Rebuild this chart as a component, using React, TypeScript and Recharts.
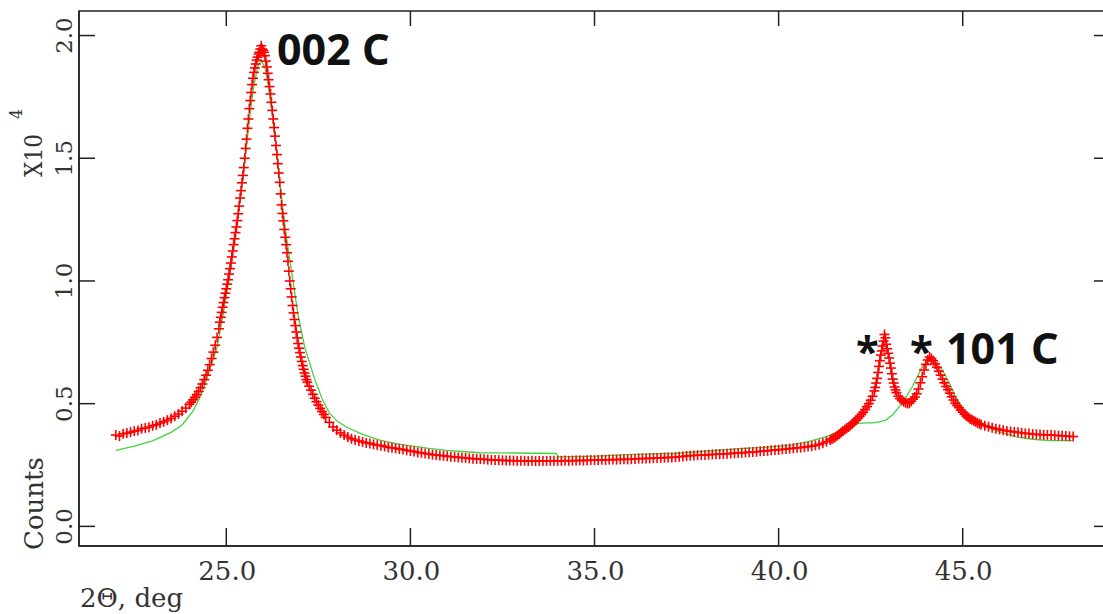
import React from "react";
import {
  ComposedChart,
  Scatter,
  Line,
  XAxis,
  YAxis,
  ReferenceArea,
} from "recharts";

const obsLeftTail: [number, number][] = [
  [22.0, 0.372], [22.1, 0.368], [22.2, 0.377], [22.3, 0.38], [22.4, 0.384],
  [22.5, 0.388], [22.6, 0.391], [22.7, 0.398], [22.8, 0.401], [22.9, 0.404],
  [23.0, 0.41], [23.1, 0.414], [23.2, 0.421], [23.3, 0.426], [23.4, 0.433],
  [23.5, 0.44], [23.6, 0.449], [23.7, 0.458], [23.8, 0.469], [23.9, 0.482],
  [24.0, 0.497], [24.05, 0.506], [24.1, 0.516], [24.15, 0.526], [24.2, 0.537],
  [24.25, 0.55], [24.3, 0.565], [24.35, 0.58], [24.4, 0.598], [24.45, 0.616],
  [24.5, 0.636], [24.55, 0.659], [24.6, 0.684], [24.65, 0.71], [24.7, 0.738],
  [24.75, 0.77], [24.8, 0.805],
];

const obsMainPeak: [number, number][] = [
  [24.825, 0.832], [24.85, 0.852], [24.875, 0.872], [24.9, 0.893], [24.925, 0.912],
  [24.95, 0.932], [24.975, 0.95], [25.0, 0.968], [25.025, 0.987], [25.05, 1.005],
  [25.075, 1.028], [25.1, 1.05], [25.125, 1.073], [25.15, 1.098], [25.175, 1.122],
  [25.2, 1.148], [25.225, 1.172], [25.25, 1.197], [25.275, 1.22], [25.3, 1.246],
  [25.325, 1.274], [25.35, 1.305], [25.375, 1.338], [25.4, 1.368], [25.425, 1.4],
  [25.45, 1.43], [25.475, 1.462], [25.5, 1.5], [25.525, 1.54], [25.55, 1.578],
  [25.575, 1.622], [25.6, 1.66], [25.625, 1.702], [25.65, 1.735], [25.675, 1.768],
  [25.7, 1.8], [25.725, 1.826], [25.75, 1.85], [25.775, 1.868], [25.8, 1.884],
  [25.825, 1.9], [25.85, 1.912], [25.875, 1.925], [25.9, 1.932], [25.925, 1.945],
  [25.95, 1.958], [25.975, 1.945], [26.0, 1.94], [26.025, 1.932], [26.05, 1.918],
  [26.075, 1.896], [26.1, 1.872], [26.125, 1.846], [26.15, 1.82], [26.175, 1.792],
  [26.2, 1.762], [26.225, 1.728], [26.25, 1.695], [26.275, 1.66], [26.3, 1.625],
  [26.325, 1.59], [26.35, 1.552], [26.375, 1.515], [26.4, 1.478], [26.425, 1.44],
  [26.45, 1.402], [26.475, 1.355], [26.5, 1.31], [26.525, 1.275], [26.55, 1.245],
  [26.575, 1.21], [26.6, 1.178], [26.625, 1.148], [26.65, 1.115], [26.675, 1.08],
  [26.7, 1.04], [26.725, 1.0], [26.75, 0.968], [26.775, 0.935], [26.8, 0.9],
  [26.825, 0.87], [26.85, 0.843], [26.875, 0.818], [26.9, 0.792], [26.925, 0.768],
  [26.95, 0.745], [26.975, 0.726], [27.0, 0.708], [27.025, 0.69], [27.05, 0.672],
  [27.075, 0.655], [27.1, 0.64], [27.125, 0.625], [27.15, 0.612], [27.175, 0.598],
  [27.2, 0.588], [27.25, 0.571], [27.3, 0.555], [27.35, 0.538], [27.4, 0.522],
  [27.45, 0.508], [27.5, 0.494], [27.55, 0.481], [27.6, 0.468], [27.65, 0.456],
  [27.7, 0.444],
];

const obsBackground: [number, number][] = [
  [27.8, 0.424], [27.9, 0.405], [28.0, 0.392], [28.1, 0.381], [28.2, 0.372],
  [28.3, 0.364], [28.4, 0.357], [28.5, 0.352], [28.6, 0.348], [28.7, 0.344],
  [28.8, 0.34], [28.9, 0.338], [29.0, 0.334], [29.1, 0.331], [29.2, 0.329],
  [29.3, 0.326], [29.4, 0.322], [29.5, 0.32], [29.6, 0.318], [29.7, 0.315],
  [29.8, 0.313], [29.9, 0.31], [30.0, 0.307], [30.1, 0.305], [30.2, 0.301],
  [30.3, 0.3], [30.4, 0.297], [30.5, 0.295], [30.6, 0.292], [30.7, 0.291],
  [30.8, 0.289], [30.9, 0.288], [31.0, 0.286], [31.1, 0.284], [31.2, 0.283],
  [31.3, 0.281], [31.4, 0.28], [31.5, 0.279], [31.6, 0.277], [31.7, 0.276],
  [31.8, 0.275], [31.9, 0.274], [32.0, 0.273], [32.1, 0.272], [32.2, 0.271],
  [32.3, 0.27], [32.4, 0.27], [32.5, 0.269], [32.6, 0.268], [32.7, 0.268],
  [32.8, 0.268], [32.9, 0.267], [33.0, 0.267], [33.1, 0.267], [33.2, 0.266],
  [33.3, 0.267], [33.4, 0.266], [33.5, 0.267], [33.6, 0.266], [33.7, 0.267],
  [33.8, 0.267], [33.9, 0.267], [34.0, 0.267], [34.1, 0.267], [34.2, 0.268],
  [34.3, 0.267], [34.4, 0.268], [34.5, 0.268], [34.6, 0.269], [34.7, 0.268],
  [34.8, 0.269], [34.9, 0.27], [35.0, 0.27], [35.1, 0.27], [35.2, 0.271],
  [35.3, 0.271], [35.4, 0.272], [35.5, 0.272], [35.6, 0.272], [35.7, 0.273],
  [35.8, 0.273], [35.9, 0.273], [36.0, 0.274], [36.1, 0.275], [36.2, 0.276],
  [36.3, 0.276], [36.4, 0.277], [36.5, 0.277], [36.6, 0.278], [36.7, 0.279],
  [36.8, 0.279], [36.9, 0.28], [37.0, 0.281], [37.1, 0.281], [37.2, 0.282],
  [37.3, 0.284], [37.4, 0.285], [37.5, 0.287], [37.6, 0.288], [37.7, 0.289],
  [37.8, 0.29], [37.9, 0.29], [38.0, 0.291], [38.1, 0.292], [38.2, 0.293],
  [38.3, 0.294], [38.4, 0.294], [38.5, 0.295], [38.6, 0.296], [38.7, 0.297],
  [38.8, 0.298], [38.9, 0.299], [39.0, 0.3], [39.1, 0.301], [39.2, 0.302],
  [39.3, 0.303], [39.4, 0.304], [39.5, 0.306], [39.6, 0.307], [39.7, 0.308],
  [39.8, 0.31], [39.9, 0.311], [40.0, 0.312], [40.1, 0.314], [40.2, 0.315],
  [40.3, 0.317], [40.4, 0.318], [40.5, 0.32], [40.6, 0.321], [40.7, 0.323],
  [40.8, 0.325], [40.9, 0.327], [41.0, 0.33], [41.1, 0.334], [41.2, 0.339],
  [41.3, 0.345], [41.4, 0.352],
];

const obsDoublet: [number, number][] = [
  [41.45, 0.356], [41.5, 0.36], [41.55, 0.365], [41.6, 0.37], [41.65, 0.376],
  [41.7, 0.383], [41.75, 0.389], [41.8, 0.395], [41.85, 0.4], [41.9, 0.405],
  [41.95, 0.411], [42.0, 0.418], [42.05, 0.425], [42.1, 0.432], [42.15, 0.44],
  [42.2, 0.448], [42.25, 0.456], [42.3, 0.465], [42.35, 0.476], [42.4, 0.488],
  [42.45, 0.5], [42.5, 0.514], [42.55, 0.53], [42.6, 0.552], [42.625, 0.566],
  [42.65, 0.584], [42.675, 0.603], [42.7, 0.627], [42.725, 0.652], [42.75, 0.675],
  [42.775, 0.698], [42.8, 0.715], [42.825, 0.735], [42.85, 0.755], [42.875, 0.782],
  [42.9, 0.768], [42.925, 0.742], [42.95, 0.724], [42.975, 0.705], [43.0, 0.686],
  [43.025, 0.665], [43.05, 0.645], [43.075, 0.622], [43.1, 0.6], [43.125, 0.584],
  [43.15, 0.568], [43.175, 0.556], [43.2, 0.545], [43.25, 0.53], [43.3, 0.52],
  [43.35, 0.513], [43.4, 0.508], [43.45, 0.504], [43.5, 0.501], [43.55, 0.502],
  [43.6, 0.509], [43.65, 0.518], [43.7, 0.527], [43.75, 0.54], [43.8, 0.56],
  [43.85, 0.585], [43.9, 0.61], [43.95, 0.637], [44.0, 0.66], [44.05, 0.678],
  [44.1, 0.69], [44.15, 0.684], [44.2, 0.675], [44.25, 0.662], [44.3, 0.648],
  [44.35, 0.632], [44.4, 0.616], [44.45, 0.6], [44.5, 0.585], [44.55, 0.57],
  [44.6, 0.557], [44.65, 0.543], [44.7, 0.528], [44.75, 0.515], [44.8, 0.502],
  [44.85, 0.492], [44.9, 0.484], [44.95, 0.474], [45.0, 0.465], [45.05, 0.457],
  [45.1, 0.45], [45.15, 0.444], [45.2, 0.438], [45.25, 0.434], [45.3, 0.43],
  [45.35, 0.426], [45.4, 0.422], [45.45, 0.418], [45.5, 0.415],
];

const obsRightTail: [number, number][] = [
  [45.6, 0.41], [45.7, 0.406], [45.8, 0.402], [45.9, 0.398], [46.0, 0.395],
  [46.1, 0.392], [46.2, 0.389], [46.3, 0.387], [46.4, 0.385], [46.5, 0.383],
  [46.6, 0.381], [46.7, 0.379], [46.8, 0.378], [46.9, 0.376], [47.0, 0.375],
  [47.1, 0.374], [47.2, 0.373], [47.3, 0.373], [47.4, 0.372], [47.5, 0.371],
  [47.6, 0.37], [47.7, 0.369], [47.8, 0.368], [47.9, 0.367], [48.0, 0.366],
];

// calculated profile (green)
const calcProfile: [number, number][] = [
  [22.0, 0.31], [22.5, 0.327], [23.0, 0.348], [23.5, 0.383], [23.8, 0.413],
  [24.1, 0.47], [24.3, 0.53], [24.5, 0.615], [24.75, 0.73], [24.92, 0.868],
  [25.07, 1.0], [25.2, 1.14], [25.33, 1.28], [25.46, 1.43], [25.6, 1.62],
  [25.73, 1.78], [25.85, 1.87], [25.94, 1.9], [26.05, 1.87], [26.15, 1.79],
  [26.25, 1.68], [26.35, 1.55], [26.45, 1.41], [26.55, 1.275], [26.65, 1.16],
  [26.81, 1.0], [26.95, 0.86], [27.13, 0.73], [27.4, 0.6], [27.6, 0.52],
  [27.81, 0.46], [28.0, 0.43], [28.26, 0.405], [28.7, 0.375], [29.17, 0.351],
  [29.6, 0.337], [30.07, 0.327], [30.5, 0.318], [30.98, 0.31], [31.4, 0.305],
  [31.88, 0.3], [32.78, 0.299], [33.96, 0.297], [34.02, 0.283], [35.04, 0.286],
  [36.22, 0.294], [37.21, 0.298], [38.0, 0.306], [38.93, 0.317], [39.6, 0.322],
  [40.29, 0.33], [40.8, 0.345], [41.28, 0.365], [41.6, 0.385], [41.83, 0.403],
  [42.0, 0.414], [42.19, 0.42], [42.4, 0.422], [42.55, 0.422], [42.73, 0.426],
  [42.91, 0.433], [43.1, 0.455], [43.27, 0.487], [43.45, 0.525], [43.63, 0.569],
  [43.8, 0.62], [43.9, 0.65], [44.0, 0.67], [44.09, 0.68], [44.25, 0.668],
  [44.45, 0.637], [44.63, 0.585], [44.81, 0.528], [45.0, 0.48], [45.17, 0.445],
  [45.35, 0.425], [45.53, 0.413], [46.0, 0.385], [46.44, 0.365], [46.9, 0.355],
  [47.34, 0.349], [47.98, 0.349],
];

const xTicks = [25, 30, 35, 40, 45];
const yTicks = [0, 0.5, 1.0, 1.5, 2.0];
const xDomain: [number, number] = [21, 49];
const yDomain: [number, number] = [-0.08, 2.1];

const observed = [
  ...obsLeftTail,
  ...obsMainPeak,
  ...obsBackground,
  ...obsDoublet,
  ...obsRightTail,
].map(([x, y]) => ({ x, y }));
const calculated = calcProfile.map(([x, y]) => ({ x, y }));

const W = 1130;
const H = 614;
const PLOT = { left: 79, top: 11, right: 1110, bottom: 546 };
const AXIS = "#222";
const SERIF = "'DejaVu Serif', serif";
const BOLD = "'Noto Sans', sans-serif";

const PlusMarker = (props: any) => {
  const { cx, cy } = props;
  if (cx == null || cy == null) return null;
  const s = 5;
  return (
    <g stroke="#f00" strokeWidth={1.6}>
      <line x1={cx - s} y1={cy} x2={cx + s} y2={cy} />
      <line x1={cx} y1={cy - s} x2={cx} y2={cy + s} />
    </g>
  );
};

const XTick = (props: any) => {
  const { x, payload } = props;
  return (
    <g>
      <line x1={x} y1={PLOT.bottom} x2={x} y2={PLOT.bottom - 18} stroke={AXIS} strokeWidth={1.5} />
      <line x1={x} y1={PLOT.top} x2={x} y2={PLOT.top + 15} stroke={AXIS} strokeWidth={1.5} />
      <text x={x + 1} y={580} textAnchor="middle" fontFamily={SERIF} fontSize={26} fill="#333">
        {Number(payload.value).toFixed(1)}
      </text>
    </g>
  );
};

const YTick = (props: any) => {
  const { y, payload } = props;
  return (
    <g>
      <line x1={PLOT.left} y1={y} x2={PLOT.left + 16} y2={y} stroke={AXIS} strokeWidth={1.5} />
      <line x1={PLOT.right - 16} y1={y} x2={PLOT.right} y2={y} stroke={AXIS} strokeWidth={1.5} />
      <text
        x={72}
        y={y}
        transform={`rotate(-90, 72, ${y})`}
        textAnchor="middle"
        fontFamily={SERIF}
        fontSize={23}
        fill="#333"
      >
        {Number(payload.value).toFixed(1)}
      </text>
    </g>
  );
};

export default function App() {
  return (
    <div
      style={{
        position: "fixed",
        left: 0,
        top: 0,
        width: 1103,
        height: 614,
        overflow: "hidden",
        background: "#fff",
      }}
    >
      <ComposedChart
        width={W}
        height={H}
        margin={{ top: PLOT.top, right: W - PLOT.right, bottom: 0, left: 0 }}
      >
        <XAxis
          type="number"
          dataKey="x"
          domain={xDomain}
          ticks={xTicks}
          allowDataOverflow
          height={H - PLOT.bottom}
          tickLine={false}
          axisLine={{ stroke: AXIS, strokeWidth: 1.5 }}
          tick={<XTick />}
          interval={0}
        />
        <YAxis
          type="number"
          dataKey="y"
          domain={yDomain}
          ticks={yTicks}
          allowDataOverflow
          width={PLOT.left}
          tickLine={false}
          axisLine={{ stroke: AXIS, strokeWidth: 1.5 }}
          tick={<YTick />}
          interval={0}
        />
        <ReferenceArea
          x1={xDomain[0]}
          x2={xDomain[1]}
          y1={yDomain[0]}
          y2={yDomain[1]}
          fill="none"
          stroke={AXIS}
          strokeWidth={1.5}
          fillOpacity={0}
        />
        <Scatter data={observed} shape={<PlusMarker />} isAnimationActive={false} />
        <Line
          data={calculated}
          dataKey="y"
          type="linear"
          stroke="#3fd43f"
          strokeWidth={1.3}
          dot={false}
          activeDot={false}
          isAnimationActive={false}
        />
        {/* annotations */}
        <text x={277} y={65} fontFamily={BOLD} fontWeight={700} fontSize={43} fill="#111">
          002 C
        </text>
        <text x={856} y={366} fontFamily={BOLD} fontWeight={700} fontSize={42} fill="#111">
          *
        </text>
        <text x={910} y={366} fontFamily={BOLD} fontWeight={700} fontSize={42} fill="#111">
          *
        </text>
        <text x={946} y={364} fontFamily={BOLD} fontWeight={700} fontSize={43} fill="#111">
          101 C
        </text>
        {/* axis titles */}
        <text
          x={42}
          y={177}
          transform="rotate(-90, 42, 177)"
          fontFamily={SERIF}
          fontSize={24}
          fill="#333"
          textLength={43}
          lengthAdjust="spacingAndGlyphs"
        >
          X10
        </text>
        <text x={22} y={119} transform="rotate(-90, 22, 119)" fontFamily={SERIF} fontSize={16} fill="#333">
          4
        </text>
        <text x={43} y={550} transform="rotate(-90, 43, 550)" fontFamily={SERIF} fontSize={26} fill="#333">
          Counts
        </text>
        <text x={80} y={607} fontFamily={SERIF} fontSize={26} fill="#333">
          2Θ, deg
        </text>
      </ComposedChart>
    </div>
  );
}
